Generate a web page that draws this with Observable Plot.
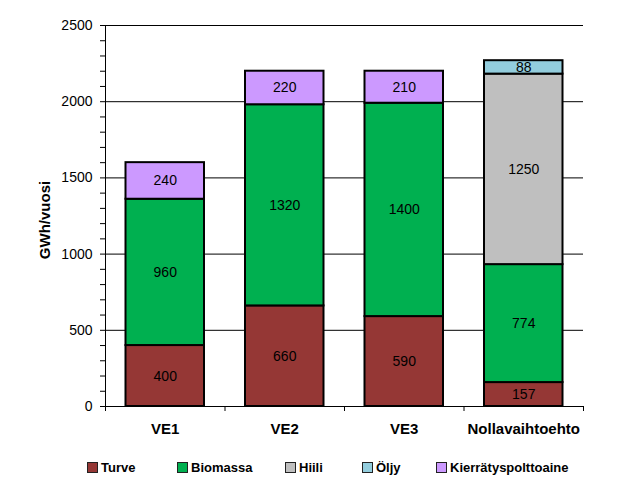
<!DOCTYPE html>
<html>
<head>
<meta charset="utf-8">
<script src="https://cdn.jsdelivr.net/npm/d3@7"></script>
<script src="https://cdn.jsdelivr.net/npm/@observablehq/plot@0.6"></script>
<style>
  body { margin: 0; background: #fff; }
  #wrap { position: relative; width: 641px; height: 487px; }
  .legend { position: absolute; top: 458px; left: 0; width: 641px; height: 20px;
    font-family: "Liberation Sans", Arial, sans-serif; font-weight: bold; font-size: 13px; color: #000; }
  .item { position: absolute; top: 0; display: flex; align-items: center; height: 18px; }
  .sw { width: 9px; height: 9px; border: 1px solid #222; margin-right: 3px; }
</style>
</head>
<body>
<div id="wrap"></div>
<script>
const categories = ["VE1", "VE2", "VE3", "Nollavaihtoehto"];
const fuels = ["Turve", "Biomassa", "Hiili", "Öljy", "Kierrätyspolttoaine"];
const colors = ["#953735", "#00B050", "#BFBFBF", "#93CDDD", "#CC99FF"];
const turve = [400, 660, 590, 157];
const biomassa = [960, 1320, 1400, 774];
const hiili = [0, 0, 0, 1250];
const oljy = [0, 0, 0, 88];
const kierratys = [240, 220, 210, 0];
const yTicks = [0, 500, 1000, 1500, 2000, 2500];
const yLabel = "GWh/vuosi";

const series = [turve, biomassa, hiili, oljy, kierratys];
const rows = [];
categories.forEach((c, i) => {
  let acc = 0;
  series.forEach((s, k) => {
    const v = s[i];
    if (v > 0) {
      rows.push({i, cat: c, fuel: fuels[k], value: v, y1: acc, y2: acc + v});
      acc += v;
    }
  });
});

const chart = Plot.plot({
  width: 641,
  height: 487,
  marginTop: 25,
  marginBottom: 81,
  marginLeft: 105,
  marginRight: 58,
  style: {fontFamily: "'Liberation Sans', Arial, sans-serif", fontSize: "14px", color: "#000"},
  x: {type: "linear", domain: [0, 4]},
  y: {domain: [0, 2500]},
  color: {domain: fuels, range: colors},
  marks: [
    Plot.gridY(yTicks, {stroke: "#000", strokeOpacity: 1, strokeWidth: 1}),
    Plot.ruleX([0], {stroke: "#000"}),
    Plot.axisY({ticks: d3.range(0, 2501, 100), tickFormat: d => d % 500 === 0 ? String(d) : "", tickSize: 5, tickPadding: 8, label: null, fontSize: 14}),
    Plot.axisX({ticks: [0, 1, 2, 3, 4], tickFormat: () => "", tickSize: 5, label: null}),
    Plot.axisX({ticks: [0.5, 1.5, 2.5, 3.5], tickFormat: d => categories[Math.floor(d)], tickSize: 0, tickPadding: 17, label: null,
      fontWeight: "bold", fontSize: 15, fontFamily: "'Liberation Sans Narrow', 'Liberation Sans', Arial, sans-serif"}),
    Plot.rectY(rows, {x1: d => d.i, x2: d => d.i + 1, y1: "y1", y2: "y2", fill: "fuel", stroke: "#000", strokeWidth: 2, insetLeft: 20.5, insetRight: 20.5}),
    Plot.text(rows, {x: d => d.i + 0.5, y: d => (d.y1 + d.y2) / 2, text: d => String(d.value), fill: "#000", fontSize: 14}),
    Plot.text([yLabel], {frameAnchor: "left", textAnchor: "middle", lineAnchor: "middle", dx: -60, dy: 4, rotate: -90, fontWeight: "bold", fontSize: 15, fill: "#000"})
  ]
});
const wrap = document.getElementById("wrap");
wrap.appendChild(chart);

const legend = document.createElement("div");
legend.className = "legend";
const lx = [87, 177, 285, 362, 436];
fuels.forEach((f, k) => {
  const it = document.createElement("div");
  it.className = "item";
  it.style.left = lx[k] + "px";
  const sw = document.createElement("span");
  sw.className = "sw";
  sw.style.background = colors[k];
  const t = document.createElement("span");
  t.textContent = f;
  it.appendChild(sw); it.appendChild(t);
  legend.appendChild(it);
});
wrap.appendChild(legend);
</script>
</body>
</html>
